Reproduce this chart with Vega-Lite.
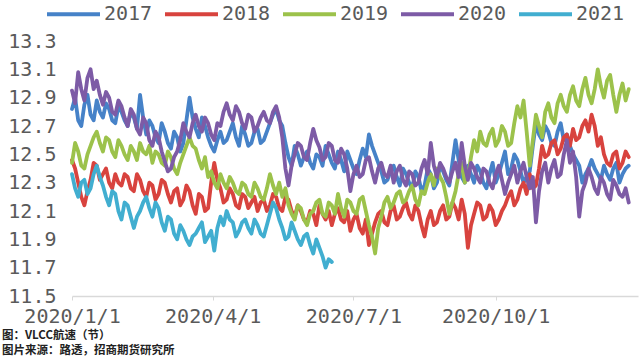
{
"$schema":"https://vega.github.io/schema/vega-lite/v6.json",
"width":566,"height":255,
"autosize":{"type":"none"},
"padding":{"left":72,"top":41,"right":2,"bottom":63},
"background":"white",
"config":{"view":{"stroke":null}},
"title":{"text":["图：VLCC航速（节）","图片来源：路透，招商期货研究所"],"orient":"bottom","anchor":"start","frame":"group","dx":-70,"offset":4,"font":"Noto Sans CJK SC","fontSize":11.5,"fontWeight":"bold","color":"#222222","lineHeight":15},
"data":{"values":[
{"t":"2020-01-01","2017":12.82,"2018":12.46,"2019":12.44,"2020":12.95,"2021":12.36},
{"t":"2020-01-05","2017":12.74,"2018":12.30,"2019":12.52,"2020":13.08,"2021":12.20},
{"t":"2020-01-09","2017":12.85,"2018":12.14,"2019":12.40,"2020":12.88,"2021":12.32},
{"t":"2020-01-13","2017":12.78,"2018":12.32,"2019":12.56,"2020":13.10,"2021":12.26},
{"t":"2020-01-17","2017":12.88,"2018":12.42,"2019":12.66,"2020":13.02,"2021":12.42},
{"t":"2020-01-21","2017":12.76,"2018":12.36,"2019":12.52,"2020":12.85,"2021":12.28},
{"t":"2020-01-25","2017":12.82,"2018":12.30,"2019":12.60,"2020":12.90,"2021":12.14},
{"t":"2020-01-29","2017":12.72,"2018":12.36,"2019":12.48,"2020":12.78,"2021":12.22},
{"t":"2020-02-02","2017":12.80,"2018":12.28,"2019":12.56,"2020":12.84,"2021":12.04},
{"t":"2020-02-06","2017":12.70,"2018":12.34,"2019":12.46,"2020":12.70,"2021":12.14},
{"t":"2020-02-10","2017":12.76,"2018":12.24,"2019":12.52,"2020":12.78,"2021":11.98},
{"t":"2020-02-14","2017":12.92,"2018":12.32,"2019":12.58,"2020":12.64,"2021":12.10},
{"t":"2020-02-18","2017":12.64,"2018":12.20,"2019":12.50,"2020":12.72,"2021":12.20},
{"t":"2020-02-22","2017":12.70,"2018":12.28,"2019":12.44,"2020":12.56,"2021":12.06},
{"t":"2020-02-26","2017":12.58,"2018":12.22,"2019":12.50,"2020":12.62,"2021":12.12},
{"t":"2020-03-01","2017":12.66,"2018":12.30,"2019":12.42,"2020":12.45,"2021":11.96},
{"t":"2020-03-05","2017":12.54,"2018":12.16,"2019":12.48,"2020":12.40,"2021":12.04},
{"t":"2020-03-09","2017":12.62,"2018":12.26,"2019":12.36,"2020":12.52,"2021":11.90},
{"t":"2020-03-13","2017":12.58,"2018":12.18,"2019":12.50,"2020":12.72,"2021":11.96},
{"t":"2020-03-17","2017":12.90,"2018":12.24,"2019":12.62,"2020":12.62,"2021":11.86},
{"t":"2020-03-21","2017":12.68,"2018":12.08,"2019":12.54,"2020":12.78,"2021":11.94},
{"t":"2020-03-25","2017":12.76,"2018":12.20,"2019":12.40,"2020":12.66,"2021":12.02},
{"t":"2020-03-29","2017":12.62,"2018":12.12,"2019":12.34,"2020":12.72,"2021":11.92},
{"t":"2020-04-02","2017":12.52,"2018":12.44,"2019":12.30,"2020":12.60,"2021":11.82},
{"t":"2020-04-06","2017":12.66,"2018":12.26,"2019":12.36,"2020":12.70,"2021":12.06},
{"t":"2020-04-10","2017":12.60,"2018":12.18,"2019":12.26,"2020":12.86,"2021":12.10},
{"t":"2020-04-14","2017":12.72,"2018":12.22,"2019":12.30,"2020":12.74,"2021":12.02},
{"t":"2020-04-18","2017":12.56,"2018":12.12,"2019":12.22,"2020":12.80,"2021":11.96},
{"t":"2020-04-22","2017":12.64,"2018":12.20,"2019":12.28,"2020":12.68,"2021":12.04},
{"t":"2020-04-26","2017":12.58,"2018":12.16,"2019":12.20,"2020":12.76,"2021":11.94},
{"t":"2020-04-30","2017":12.68,"2018":12.10,"2019":12.26,"2020":12.70,"2021":12.00},
{"t":"2020-05-04","2017":12.60,"2018":12.18,"2019":12.18,"2020":12.80,"2021":11.92},
{"t":"2020-05-08","2017":12.72,"2018":12.14,"2019":12.36,"2020":12.72,"2021":12.08},
{"t":"2020-05-12","2017":12.82,"2018":12.20,"2019":12.22,"2020":12.84,"2021":12.12},
{"t":"2020-05-16","2017":12.70,"2018":12.10,"2019":12.20,"2020":12.62,"2021":11.98},
{"t":"2020-05-20","2017":12.48,"2018":12.18,"2019":12.14,"2020":12.28,"2021":11.92},
{"t":"2020-05-24","2017":12.56,"2018":12.06,"2019":12.04,"2020":12.50,"2021":11.96},
{"t":"2020-05-28","2017":12.42,"2018":12.10,"2019":12.12,"2020":12.56,"2021":11.86},
{"t":"2020-06-01","2017":12.52,"2018":12.02,"2019":12.00,"2020":12.46,"2021":11.94},
{"t":"2020-06-05","2017":12.40,"2018":12.08,"2019":12.10,"2020":12.68,"2021":11.80},
{"t":"2020-06-09","2017":12.48,"2018":12.14,"2019":12.18,"2020":12.55,"2021":11.84},
{"t":"2020-06-13","2017":12.56,"2018":12.04,"2019":12.06,"2020":12.48,"2021":11.70},
{"t":"2020-06-17","2017":12.44,"2018":12.00,"2019":12.14,"2020":12.56,"2021":11.74},
{"t":"2020-06-21","2017":12.52,"2018":12.12,"2019":12.22,"2020":12.44},
{"t":"2020-06-25","2017":12.38,"2018":12.02,"2019":12.06,"2020":12.50},
{"t":"2020-06-29","2017":12.46,"2018":11.96,"2019":12.16,"2020":12.24},
{"t":"2020-07-03","2017":12.36,"2018":12.08,"2019":12.08,"2020":12.42},
{"t":"2020-07-07","2017":12.54,"2018":11.94,"2019":12.20,"2020":12.36},
{"t":"2020-07-11","2017":12.64,"2018":11.86,"2019":12.00,"2020":12.48},
{"t":"2020-07-15","2017":12.50,"2018":12.02,"2019":11.80,"2020":12.30},
{"t":"2020-07-19","2017":12.38,"2018":12.10,"2019":12.06,"2020":12.44},
{"t":"2020-07-23","2017":12.32,"2018":12.00,"2019":12.20,"2020":12.34},
{"t":"2020-07-27","2017":12.42,"2018":12.14,"2019":12.16,"2020":12.30},
{"t":"2020-07-31","2017":12.28,"2018":12.06,"2019":12.24,"2020":12.42},
{"t":"2020-08-04","2017":12.36,"2018":12.16,"2019":12.18,"2020":12.28},
{"t":"2020-08-08","2017":12.26,"2018":12.04,"2019":12.28,"2020":12.36},
{"t":"2020-08-12","2017":12.34,"2018":12.10,"2019":12.14,"2020":12.30},
{"t":"2020-08-16","2017":12.28,"2018":11.92,"2019":12.22,"2020":12.46},
{"t":"2020-08-20","2017":12.36,"2018":12.10,"2019":12.36,"2020":12.58},
{"t":"2020-08-24","2017":12.30,"2018":12.02,"2019":12.40,"2020":12.34},
{"t":"2020-08-28","2017":12.38,"2018":12.14,"2019":12.30,"2020":12.40},
{"t":"2020-09-01","2017":12.28,"2018":12.06,"2019":12.08,"2020":12.30},
{"t":"2020-09-05","2017":12.60,"2018":12.12,"2019":12.24,"2020":12.44},
{"t":"2020-09-09","2017":12.34,"2018":12.18,"2019":12.44,"2020":12.58},
{"t":"2020-09-13","2017":12.42,"2018":11.84,"2019":12.34,"2020":12.32},
{"t":"2020-09-17","2017":12.30,"2018":12.08,"2019":12.60,"2020":12.40},
{"t":"2020-09-21","2017":12.38,"2018":12.14,"2019":12.66,"2020":12.30},
{"t":"2020-09-25","2017":12.26,"2018":12.06,"2019":12.56,"2020":12.38},
{"t":"2020-09-29","2017":12.44,"2018":12.10,"2019":12.68,"2020":12.26},
{"t":"2020-10-03","2017":12.36,"2018":12.04,"2019":12.60,"2020":12.42},
{"t":"2020-10-07","2017":12.52,"2018":12.14,"2019":12.66,"2020":12.22},
{"t":"2020-10-11","2017":12.40,"2018":12.24,"2019":12.58,"2020":12.36},
{"t":"2020-10-15","2017":12.46,"2018":12.18,"2019":12.84,"2020":12.30},
{"t":"2020-10-19","2017":12.30,"2018":12.30,"2019":12.88,"2020":12.44},
{"t":"2020-10-23","2017":12.38,"2018":12.36,"2019":12.42,"2020":12.26},
{"t":"2020-10-27","2017":12.72,"2018":12.28,"2019":12.78,"2020":12.02},
{"t":"2020-10-31","2017":12.60,"2018":12.56,"2019":12.62,"2020":12.38},
{"t":"2020-11-04","2017":12.66,"2018":12.50,"2019":12.86,"2020":12.30},
{"t":"2020-11-08","2017":12.56,"2018":12.60,"2019":12.72,"2020":12.46},
{"t":"2020-11-12","2017":12.72,"2018":12.54,"2019":12.92,"2020":12.36},
{"t":"2020-11-16","2017":12.64,"2018":12.64,"2019":12.80,"2020":12.60},
{"t":"2020-11-20","2017":12.50,"2018":12.68,"2019":12.98,"2020":12.52},
{"t":"2020-11-24","2017":12.42,"2018":12.62,"2019":12.84,"2020":12.06},
{"t":"2020-11-28","2017":12.36,"2018":12.74,"2019":13.04,"2020":12.30},
{"t":"2020-12-02","2017":12.46,"2018":12.78,"2019":12.86,"2020":12.34},
{"t":"2020-12-06","2017":12.36,"2018":12.56,"2019":13.10,"2020":12.22},
{"t":"2020-12-10","2017":12.42,"2018":12.50,"2019":12.90,"2020":12.30},
{"t":"2020-12-14","2017":12.32,"2018":12.42,"2019":13.06,"2020":12.18},
{"t":"2020-12-18","2017":12.44,"2018":12.52,"2019":12.80,"2020":12.28},
{"t":"2020-12-22","2017":12.36,"2018":12.44,"2019":13.00,"2020":12.20},
{"t":"2020-12-26","2017":12.42,"2018":12.48,"2019":12.96,"2020":12.16},
{"t":"2020-01-03","2017":12.90,"2018":12.40,"2019":12.58,"2020":12.86,"2021":12.26},
{"t":"2020-01-07","2017":12.70,"2018":12.20,"2019":12.42,"2020":12.96,"2021":12.30},
{"t":"2020-01-11","2017":12.92,"2018":12.24,"2019":12.50,"2020":13.04,"2021":12.22},
{"t":"2020-01-15","2017":12.74,"2018":12.44,"2019":12.62,"2020":12.96,"2021":12.36},
{"t":"2020-01-19","2017":12.80,"2018":12.32,"2019":12.58,"2020":12.92,"2021":12.34},
{"t":"2020-01-23","2017":12.86,"2018":12.40,"2019":12.62,"2020":12.94,"2021":12.20},
{"t":"2020-01-27","2017":12.74,"2018":12.26,"2019":12.52,"2020":12.80,"2021":12.24},
{"t":"2020-01-31","2017":12.84,"2018":12.30,"2019":12.60,"2020":12.88,"2021":12.10},
{"t":"2020-02-04","2017":12.74,"2018":12.36,"2019":12.50,"2020":12.76,"2021":12.16},
{"t":"2020-02-08","2017":12.80,"2018":12.26,"2019":12.56,"2020":12.82,"2021":12.06},
{"t":"2020-02-12","2017":12.68,"2018":12.36,"2019":12.46,"2020":12.68,"2021":12.06},
{"t":"2020-02-16","2017":12.76,"2018":12.24,"2019":12.52,"2020":12.76,"2021":12.16},
{"t":"2020-02-20","2017":12.74,"2018":12.30,"2019":12.56,"2020":12.60,"2021":12.12},
{"t":"2020-02-24","2017":12.62,"2018":12.18,"2019":12.52,"2020":12.66,"2021":12.16},
{"t":"2020-02-28","2017":12.72,"2018":12.32,"2019":12.44,"2020":12.52,"2021":12.02},
{"t":"2020-03-03","2017":12.58,"2018":12.22,"2019":12.52,"2020":12.38,"2021":12.06},
{"t":"2020-03-07","2017":12.66,"2018":12.24,"2019":12.40,"2020":12.48,"2021":11.94},
{"t":"2020-03-11","2017":12.52,"2018":12.14,"2019":12.44,"2020":12.60,"2021":12.00},
{"t":"2020-03-15","2017":12.74,"2018":12.28,"2019":12.56,"2020":12.66,"2021":11.90},
{"t":"2020-03-19","2017":12.76,"2018":12.14,"2019":12.56,"2020":12.72,"2021":11.92},
{"t":"2020-03-23","2017":12.62,"2018":12.22,"2019":12.46,"2020":12.70,"2021":11.98},
{"t":"2020-03-27","2017":12.70,"2018":12.10,"2019":12.48,"2020":12.76,"2021":11.88},
{"t":"2020-03-31","2017":12.56,"2018":12.30,"2019":12.38,"2020":12.64,"2021":11.96},
{"t":"2020-04-04","2017":12.60,"2018":12.32,"2019":12.26,"2020":12.72,"2021":11.98},
{"t":"2020-04-08","2017":12.58,"2018":12.16,"2019":12.30,"2020":12.80,"2021":12.00},
{"t":"2020-04-12","2017":12.66,"2018":12.26,"2019":12.34,"2020":12.78,"2021":12.04},
{"t":"2020-04-16","2017":12.62,"2018":12.14,"2019":12.24,"2020":12.84,"2021":11.92},
{"t":"2020-04-20","2017":12.70,"2018":12.22,"2019":12.30,"2020":12.72,"2021":12.02},
{"t":"2020-04-24","2017":12.56,"2018":12.12,"2019":12.22,"2020":12.78,"2021":11.98},
{"t":"2020-04-28","2017":12.66,"2018":12.20,"2019":12.30,"2020":12.66,"2021":12.04},
{"t":"2020-05-02","2017":12.58,"2018":12.16,"2019":12.20,"2020":12.76,"2021":11.94},
{"t":"2020-05-06","2017":12.66,"2018":12.10,"2019":12.26,"2020":12.74,"2021":12.00},
{"t":"2020-05-10","2017":12.78,"2018":12.22,"2019":12.28,"2020":12.80,"2021":12.16},
{"t":"2020-05-14","2017":12.74,"2018":12.12,"2019":12.30,"2020":12.76,"2021":12.04},
{"t":"2020-05-18","2017":12.58,"2018":12.20,"2019":12.26,"2020":12.40,"2021":11.90},
{"t":"2020-05-22","2017":12.42,"2018":12.10,"2019":12.08,"2020":12.42,"2021":12.02},
{"t":"2020-05-26","2017":12.50,"2018":12.14,"2019":12.14,"2020":12.58,"2021":11.90},
{"t":"2020-05-30","2017":12.48,"2018":12.04,"2019":12.04,"2020":12.48,"2021":11.92},
{"t":"2020-06-03","2017":12.44,"2018":12.10,"2019":12.08,"2020":12.58,"2021":11.86},
{"t":"2020-06-07","2017":12.50,"2018":12.00,"2019":12.16,"2020":12.60,"2021":11.90},
{"t":"2020-06-11","2017":12.42,"2018":12.08,"2019":12.08,"2020":12.46,"2021":11.78},
{"t":"2020-06-15","2017":12.50,"2018":12.10,"2019":12.16,"2020":12.58,"2021":11.76},
{"t":"2020-06-19","2017":12.40,"2018":12.08,"2019":12.08,"2020":12.46},
{"t":"2020-06-23","2017":12.46,"2018":12.04,"2019":12.12,"2020":12.54},
{"t":"2020-06-27","2017":12.52,"2018":12.10,"2019":12.18,"2020":12.40},
{"t":"2020-07-01","2017":12.40,"2018":12.04,"2019":12.10,"2020":12.36},
{"t":"2020-07-05","2017":12.46,"2018":11.98,"2019":12.18,"2020":12.34},
{"t":"2020-07-09","2017":12.48,"2018":12.04,"2019":12.10,"2020":12.46},
{"t":"2020-07-13","2017":12.56,"2018":11.94,"2019":11.92,"2020":12.38},
{"t":"2020-07-17","2017":12.44,"2018":12.08,"2019":11.98,"2020":12.40},
{"t":"2020-07-21","2017":12.30,"2018":12.02,"2019":12.16,"2020":12.36},
{"t":"2020-07-25","2017":12.38,"2018":12.10,"2019":12.12,"2020":12.42},
{"t":"2020-07-29","2017":12.34,"2018":12.04,"2019":12.22,"2020":12.38},
{"t":"2020-08-02","2017":12.40,"2018":12.12,"2019":12.16,"2020":12.32},
{"t":"2020-08-06","2017":12.30,"2018":12.08,"2019":12.24,"2020":12.38},
{"t":"2020-08-10","2017":12.38,"2018":12.14,"2019":12.18,"2020":12.28},
{"t":"2020-08-14","2017":12.24,"2018":12.00,"2019":12.24,"2020":12.40},
{"t":"2020-08-18","2017":12.40,"2018":12.04,"2019":12.30,"2020":12.36},
{"t":"2020-08-22","2017":12.26,"2018":12.00,"2019":12.28,"2020":12.42},
{"t":"2020-08-26","2017":12.42,"2018":12.10,"2019":12.34,"2020":12.44},
{"t":"2020-08-30","2017":12.32,"2018":12.04,"2019":12.20,"2020":12.34},
{"t":"2020-09-03","2017":12.44,"2018":12.16,"2019":12.16,"2020":12.38},
{"t":"2020-09-07","2017":12.46,"2018":12.04,"2019":12.36,"2020":12.34},
{"t":"2020-09-11","2017":12.30,"2018":12.08,"2019":12.30,"2020":12.42},
{"t":"2020-09-15","2017":12.36,"2018":12.00,"2019":12.48,"2020":12.44},
{"t":"2020-09-19","2017":12.42,"2018":12.16,"2019":12.52,"2020":12.34},
{"t":"2020-09-23","2017":12.30,"2018":12.04,"2019":12.58,"2020":12.40},
{"t":"2020-09-27","2017":12.36,"2018":12.14,"2019":12.64,"2020":12.30},
{"t":"2020-10-01","2017":12.30,"2018":12.00,"2019":12.56,"2020":12.36},
{"t":"2020-10-05","2017":12.44,"2018":12.10,"2019":12.70,"2020":12.32},
{"t":"2020-10-09","2017":12.36,"2018":12.20,"2019":12.56,"2020":12.30},
{"t":"2020-10-13","2017":12.50,"2018":12.14,"2019":12.72,"2020":12.42},
{"t":"2020-10-17","2017":12.38,"2018":12.26,"2019":12.76,"2020":12.38},
{"t":"2020-10-21","2017":12.34,"2018":12.22,"2019":12.66,"2020":12.34},
{"t":"2020-10-25","2017":12.56,"2018":12.26,"2019":12.60,"2020":12.34},
{"t":"2020-10-29","2017":12.64,"2018":12.40,"2019":12.70,"2020":12.24},
{"t":"2020-11-02","2017":12.70,"2018":12.48,"2019":12.80,"2020":12.44},
{"t":"2020-11-06","2017":12.58,"2018":12.58,"2019":12.76,"2020":12.40},
{"t":"2020-11-10","2017":12.66,"2018":12.50,"2019":12.86,"2020":12.34},
{"t":"2020-11-14","2017":12.60,"2018":12.62,"2019":12.84,"2020":12.50},
{"t":"2020-11-18","2017":12.56,"2018":12.56,"2019":12.92,"2020":12.44},
{"t":"2020-11-22","2017":12.46,"2018":12.60,"2019":12.88,"2020":12.34},
{"t":"2020-11-26","2017":12.30,"2018":12.70,"2019":12.96,"2020":12.24},
{"t":"2020-11-30","2017":12.40,"2018":12.66,"2019":12.92,"2020":12.40},
{"t":"2020-12-04","2017":12.40,"2018":12.70,"2019":12.96,"2020":12.26},
{"t":"2020-12-08","2017":12.32,"2018":12.62,"2019":12.98,"2020":12.34},
{"t":"2020-12-12","2017":12.36,"2018":12.44,"2019":13.02,"2020":12.22},
{"t":"2020-12-16","2017":12.40,"2018":12.50,"2019":12.92,"2020":12.32},
{"t":"2020-12-20","2017":12.30,"2018":12.40,"2019":12.92,"2020":12.22},
{"t":"2020-12-24","2017":12.40,"2018":12.52,"2019":12.88,"2020":12.26}
]},
"transform":[{"fold":["2017","2018","2019","2020","2021"],"as":["year","value"]},{"filter":"isValid(datum.value)"}],
"mark":{"type":"line","strokeWidth":3.8,"strokeJoin":"round","strokeCap":"round"},
"encoding":{
"x":{"field":"t","type":"temporal","scale":{"type":"utc","domain":[{"year":2020,"month":1,"date":1,"utc":true},{"year":2021,"month":1,"date":1,"utc":true}]},
"axis":{"title":null,"grid":false,"values":[{"year":2020,"month":1,"date":1,"utc":true},{"year":2020,"month":4,"date":1,"utc":true},{"year":2020,"month":7,"date":1,"utc":true},{"year":2020,"month":10,"date":1,"utc":true}],"format":"%Y/%-m/%-d","labelFont":"DejaVu Sans Mono","labelFontSize":20,"labelColor":"#5a5a5a","labelPadding":6,"labelFlush":false,"labelOverlap":false,"domainColor":"#d9d9d9","domainWidth":1.5,"tickColor":"#d9d9d9","tickSize":4}},
"y":{"field":"value","type":"quantitative","scale":{"domain":[11.5,13.3],"nice":false,"zero":false},
"axis":{"title":null,"grid":false,"domain":false,"ticks":false,"values":[11.5,11.7,11.9,12.1,12.3,12.5,12.7,12.9,13.1,13.3],"format":".1f","labelFont":"DejaVu Sans Mono","labelFontSize":20,"labelColor":"#5a5a5a","labelPadding":16}},
"color":{"field":"year","type":"nominal","scale":{"domain":["2017","2018","2019","2020","2021"],"range":["#4682c8","#d8433e","#9cc24b","#7d5ba6","#41aed0"]},
"legend":{"title":null,"orient":"none","legendX":-27,"legendY":-55.5,"direction":"horizontal","symbolType":"stroke","symbolSize":2809,"symbolStrokeWidth":4,"labelFont":"DejaVu Sans Mono","labelFontSize":20,"labelColor":"#5a5a5a","labelOffset":2,"columnPadding":4,"padding":0}}
}
}
